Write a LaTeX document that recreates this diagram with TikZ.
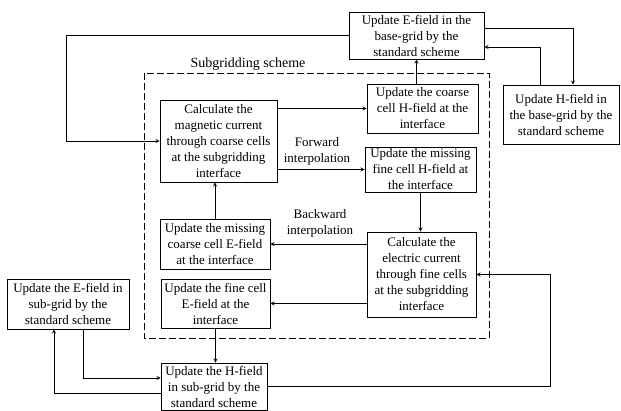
\documentclass[tikz,border=0pt]{standalone}
\usepackage{fontspec}
\setmainfont{Liberation Serif}
\begin{document}
\begin{tikzpicture}[x=1pt,y=-1pt,>=stealth,line width=.8pt,
  every node/.style={font=\fontsize{13}{16}\selectfont,align=center,inner sep=0pt},
  blk/.style 2 args={draw,line width=.9pt,minimum width=#1pt,minimum height=#2pt}]
  \useasboundingbox (0,0) rectangle (621,411);
  % subgridding region
  \draw[dashed,dash pattern=on 7pt off 3pt] (144,73) rectangle (489,338);
  \node[font=\fontsize{14}{16}\selectfont] (title) at (248,64) {Subgridding scheme};
  % boxes
  \node[blk={135}{47}] (ebase) at (416.5,35.5) {Update E-field in the\\base-grid by the\\standard scheme};
  \node[blk={116}{59}] (hbase) at (561,114.5) {Update H-field in\\the base-grid by the\\standard scheme};
  \node[blk={117}{82}] (calcm) at (218.5,141) {Calculate the\\magnetic current\\through coarse cells\\at the subgridding\\interface};
  \node[blk={111}{49}] (coarseh) at (422.5,108.5) {Update the coarse\\cell H-field at the\\interface};
  \node[blk={111}{45}] (fineh) at (420.5,169.5) {Update the missing\\fine cell H-field at\\the interface};
  \node[blk={109}{85}] (calce) at (421.5,274.5) {Calculate the\\electric current\\through fine cells\\at the subgridding\\interface};
  \node[blk={110}{50}] (mcoarse) at (215,244) {Update the missing\\coarse cell E-field\\at the interface};
  \node[blk={109}{49}] (finee) at (215.5,303.5) {Update the fine cell\\E-field at the\\interface};
  \node[blk={122}{50}] (esub) at (68,304) {Update the E-field in\\sub-grid by the\\standard scheme};
  \node[blk={106}{47}] (hsub) at (214,386.5) {Update the H-field\\in sub-grid by the\\standard scheme};
  \node (fwd) at (317,151) {Forward\\interpolation};
  \node (bwd) at (320,223) {Backward\\interpolation};
  \coordinate (lx) at (66,0);
  \coordinate (rb) at (550,0);
  % connectors
  \draw[->] (ebase.west) -- (ebase.west -| lx) |- (calcm.west);
  \draw[->] ([yshift=7.5pt]ebase.east) -| ([xshift=12pt]hbase.north);
  \draw[->] ([xshift=-21pt]hbase.north) |- ([yshift=-11.5pt]ebase.east);
  \draw[->] (calcm.east |- coarseh.west) -- (coarseh.west);
  \draw[->] (calcm.east |- fineh.west) -- (fineh.west);
  \draw[->] (ebase.south |- coarseh.north) -- (ebase.south);
  \draw[->] (fineh.south) -- (fineh.south |- calce.north);
  \draw[->] (calce.west |- mcoarse.east) -- (mcoarse.east);
  \draw[->] (calce.west |- finee.east) -- (finee.east);
  \draw[->] (mcoarse.north) -- (mcoarse.north |- calcm.south);
  \draw[->] (finee.south) -- (finee.south |- hsub.north);
  \draw[->] (hsub.east) -- (hsub.east -| rb) |- (calce.east);
  \draw[->] ([xshift=15pt]esub.south) |- ([yshift=8.5pt]hsub.west);
  \draw[->] ([yshift=-6.5pt]hsub.west) -| ([xshift=-14pt]esub.south);
\end{tikzpicture}
\end{document}
